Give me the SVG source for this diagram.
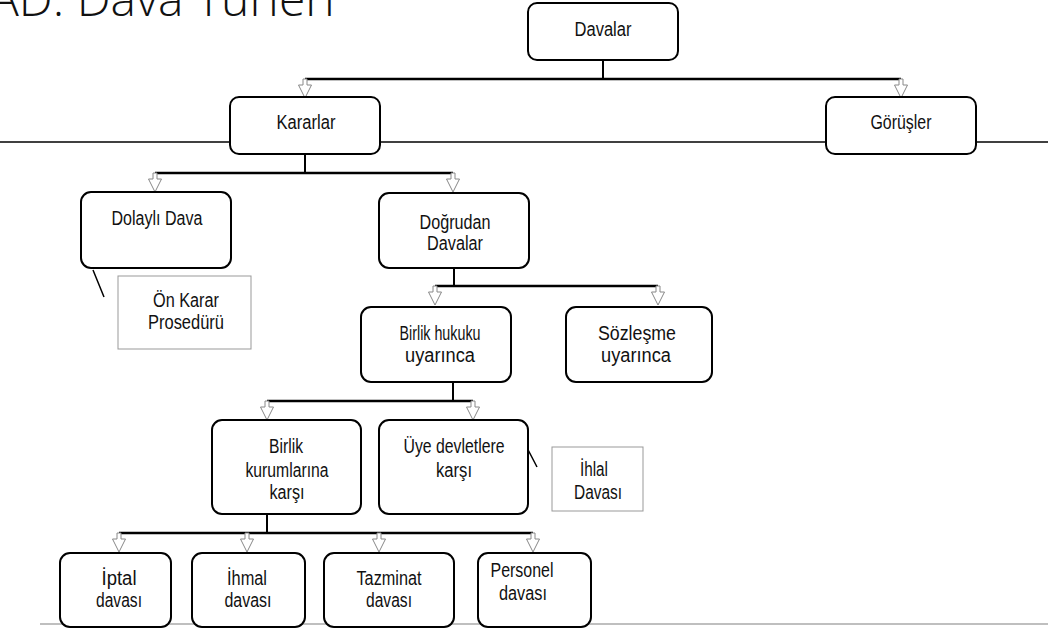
<svg xmlns="http://www.w3.org/2000/svg" width="1048" height="631" viewBox="0 0 1048 631">
<style>
.box{fill:#fff;stroke:#000;stroke-width:2}
.note{fill:#fff;stroke:#999;stroke-width:1}
.t{font-family:"Liberation Sans Narrow","Liberation Sans",Arial,sans-serif;font-size:20px;fill:#111;text-anchor:middle}
.bus{stroke:#000;stroke-width:2.6;fill:none}
.v{stroke:#000;stroke-width:2;fill:none}
.thin{stroke:#000;stroke-width:1.5;fill:none}
.title{font-family:"Open Sans","Noto Sans",sans-serif;font-weight:300;font-size:48px;fill:#111}
</style>
<defs>
<polygon id="arr" points="-2,0 2,0 2,6 6.5,6 0,19 -6.5,6 -2,6" fill="#fff" stroke="#888" stroke-width="1"/>
</defs>
<text class="title" x="-10" y="16">AD. Dava Türleri</text>
<line x1="0" y1="142" x2="1048" y2="142" stroke="#000" stroke-width="1.5"/>
<line x1="40" y1="624" x2="1048" y2="624" stroke="#aaa" stroke-width="1.5"/>
<g id="connectors">
<path class="v" d="M603,60V79 M305,154V173 M454,268V286 M453,382V401 M267,514V533"/>
<path class="bus" d="M305,79H901 M155,173H453 M435,286H658 M267,401H473 M119,533H533"/>
<path class="thin" d="M93,270L104,297 M524,442L537,467"/>
<use href="#arr" x="305" y="79"/>
<use href="#arr" x="901" y="79"/>
<use href="#arr" x="155" y="173"/>
<use href="#arr" x="453" y="173"/>
<use href="#arr" x="435" y="286"/>
<use href="#arr" x="658" y="286"/>
<use href="#arr" x="267" y="401"/>
<use href="#arr" x="473" y="401"/>
<use href="#arr" x="119" y="533"/>
<use href="#arr" x="247" y="533"/>
<use href="#arr" x="379" y="533"/>
<use href="#arr" x="533" y="533"/>
</g>
<g id="n-davalar"><rect class="box" x="528" y="3" width="150" height="57" rx="9"/><text class="t" x="603" y="36" textLength="57" lengthAdjust="spacingAndGlyphs">Davalar</text></g>
<g id="n-kararlar"><rect class="box" x="230" y="97" width="150" height="57" rx="9"/><text class="t" x="306" y="129" textLength="59" lengthAdjust="spacingAndGlyphs">Kararlar</text></g>
<g id="n-gorusler"><rect class="box" x="826" y="97" width="150" height="57" rx="9"/><text class="t" x="901" y="129" textLength="61" lengthAdjust="spacingAndGlyphs">Görüşler</text></g>
<g id="n-dolayli"><rect class="box" x="81" y="192" width="150" height="76" rx="10"/><text class="t" x="157" y="225" textLength="91" lengthAdjust="spacingAndGlyphs">Dolaylı Dava</text></g>
<g id="n-onkarar"><rect class="note" x="118" y="276" width="133" height="73"/><text class="t" x="186" y="307" textLength="66" lengthAdjust="spacingAndGlyphs">Ön Karar</text><text class="t" x="186" y="329" textLength="76" lengthAdjust="spacingAndGlyphs">Prosedürü</text></g>
<g id="n-dogrudan"><rect class="box" x="379" y="193" width="150" height="75" rx="10"/><text class="t" x="455" y="229" textLength="71" lengthAdjust="spacingAndGlyphs">Doğrudan</text><text class="t" x="455" y="250" textLength="56" lengthAdjust="spacingAndGlyphs">Davalar</text></g>
<g id="n-birlikhukuku"><rect class="box" x="361" y="307" width="150" height="75" rx="10"/><text class="t" x="440" y="340" textLength="81" lengthAdjust="spacingAndGlyphs">Birlik hukuku</text><text class="t" x="440" y="362" textLength="70" lengthAdjust="spacingAndGlyphs">uyarınca</text></g>
<g id="n-sozlesme"><rect class="box" x="566" y="307" width="146" height="75" rx="10"/><text class="t" x="637" y="340" textLength="78" lengthAdjust="spacingAndGlyphs">Sözleşme</text><text class="t" x="636" y="362" textLength="70" lengthAdjust="spacingAndGlyphs">uyarınca</text></g>
<g id="n-kurumlar"><rect class="box" x="212" y="420" width="149" height="94" rx="10"/><text class="t" x="286" y="453" textLength="34" lengthAdjust="spacingAndGlyphs">Birlik</text><text class="t" x="287" y="477" textLength="83" lengthAdjust="spacingAndGlyphs">kurumlarına</text><text class="t" x="287" y="499" textLength="35" lengthAdjust="spacingAndGlyphs">karşı</text></g>
<g id="n-uyedevlet"><rect class="box" x="379" y="420" width="149" height="94" rx="10"/><text class="t" x="454" y="453" textLength="101" lengthAdjust="spacingAndGlyphs">Üye devletlere</text><text class="t" x="454" y="477" textLength="36" lengthAdjust="spacingAndGlyphs">karşı</text></g>
<g id="n-ihlal"><rect class="note" x="552" y="447" width="91" height="64"/><text class="t" x="594" y="476" textLength="28" lengthAdjust="spacingAndGlyphs">İhlal</text><text class="t" x="598" y="499" textLength="48" lengthAdjust="spacingAndGlyphs">Davası</text></g>
<g id="n-iptal"><rect class="box" x="60" y="553" width="111" height="74" rx="10"/><text class="t" x="119" y="585" textLength="35" lengthAdjust="spacingAndGlyphs">İptal</text><text class="t" x="119" y="607" textLength="46" lengthAdjust="spacingAndGlyphs">davası</text></g>
<g id="n-ihmal"><rect class="box" x="192" y="553" width="113" height="74" rx="10"/><text class="t" x="247" y="585" textLength="40" lengthAdjust="spacingAndGlyphs">İhmal</text><text class="t" x="248" y="607" textLength="47" lengthAdjust="spacingAndGlyphs">davası</text></g>
<g id="n-tazminat"><rect class="box" x="324" y="553" width="130" height="74" rx="10"/><text class="t" x="389" y="585" textLength="65" lengthAdjust="spacingAndGlyphs">Tazminat</text><text class="t" x="389" y="607" textLength="46" lengthAdjust="spacingAndGlyphs">davası</text></g>
<g id="n-personel"><rect class="box" x="478" y="553" width="113" height="74" rx="10"/><text class="t" x="522" y="577" textLength="63" lengthAdjust="spacingAndGlyphs">Personel</text><text class="t" x="523" y="600" textLength="48" lengthAdjust="spacingAndGlyphs">davası</text></g>
</svg>
